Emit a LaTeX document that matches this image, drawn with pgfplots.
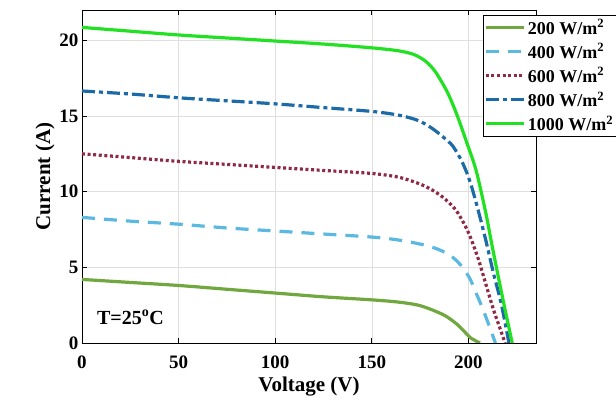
\documentclass[border=0pt]{standalone}
\usepackage{fontspec}
\setmainfont{Liberation Serif}
\usepackage{pgfplots}
\pgfplotsset{compat=1.18}
\definecolor{c200}{HTML}{70A83F}
\definecolor{c400}{HTML}{5BB8E0}
\definecolor{c600}{HTML}{8E2A45}
\definecolor{c800}{HTML}{1C6AA6}
\definecolor{c1000}{HTML}{22E022}
\begin{document}
\begin{tikzpicture}
\begin{axis}[
    scale only axis,
    width=454pt, height=333pt,
    xmin=0, xmax=235, ymin=0, ymax=22,
    xtick={0,50,...,200}, ytick={0,5,...,20},
    tick align=inside, ticks=both,
    tick style={black, thick},
    major tick length=5pt,
    grid=major, major grid style={gray!25},
    axis line style={black, thick},
    xlabel={\bfseries Voltage (V)}, ylabel={\bfseries Current (A)},
    label style={font=\fontsize{21}{23}\selectfont},
    xlabel style={yshift=-2pt},
    ylabel style={yshift=-2pt},
    tick label style={font=\fontsize{19}{21}\selectfont\bfseries},
    xticklabel style={yshift=-9pt},
    /pgf/number format/assume math mode=true,
    legend style={at={(0.883,0.985)}, anchor=north west, draw=black, thick,
        font=\fontsize{18}{20}\selectfont\bfseries, inner xsep=1pt, inner ysep=2pt,
        row sep=4pt, fill=white},
    legend cell align=left,
    legend image code/.code={\draw[#1] (0cm,0cm) -- (1.35cm,0cm);},
    every axis plot/.append style={line width=3.2pt},
]
\addplot[c200, smooth] coordinates {
(0,4.2) (25,4.0) (50,3.8) (75,3.55) (100,3.3) (125,3.05) (150,2.85) (164,2.7) (174,2.5) (181,2.2) (188,1.8) (194,1.25) (198,0.75) (201,0.35) (206,0)
};
\addlegendentry{200 W/m$^{\mathbf{2}}$}
\addplot[c400, dash pattern=on 13pt off 9pt, smooth] coordinates {
(0,8.3) (25,8.05) (50,7.85) (75,7.6) (100,7.4) (125,7.2) (150,7.0) (164,6.8) (178,6.45) (186,6.1) (192,5.65) (197,5.0) (201,4.2) (204,3.3) (207,2.4) (210,1.4) (214,0)
};
\addlegendentry{400 W/m$^{\mathbf{2}}$}
\addplot[c600, dash pattern=on 3pt off 2.6pt, smooth] coordinates {
(0,12.5) (25,12.25) (50,12.0) (75,11.8) (100,11.6) (125,11.4) (150,11.2) (164,10.95) (175,10.5) (182,10.05) (188,9.5) (194,8.7) (200,7.3) (205,5.6) (209,3.9) (213,2.2) (216,1.1) (219,0)
};
\addlegendentry{600 W/m$^{\mathbf{2}}$}
\addplot[c800, dash pattern=on 13pt off 4pt on 4pt off 4pt, smooth] coordinates {
(0,16.65) (25,16.45) (50,16.2) (75,16.0) (100,15.8) (125,15.55) (150,15.3) (164,15.05) (174,14.7) (181,14.2) (187,13.6) (192,13.0) (197,11.9) (201,10.6) (205,8.8) (209,6.8) (213,4.6) (217,2.6) (221,0)
};
\addlegendentry{800 W/m$^{\mathbf{2}}$}
\addplot[c1000, smooth] coordinates {
(0,20.85) (25,20.6) (50,20.35) (75,20.15) (100,19.95) (125,19.75) (150,19.5) (164,19.3) (172,19.05) (178,18.6) (183,17.9) (189,16.6) (194,15.1) (199,13.3) (204,11.4) (209,8.6) (212,6.6) (214.5,5.0) (218.5,2.5) (222.7,0)
};
\addlegendentry{1000 W/m$^{\mathbf{2}}$}
\node[anchor=west, font=\fontsize{20}{22}\selectfont\bfseries] at (axis cs:6,1.7) {T=25$^{\mathbf{o}}$C};
\end{axis}
\pgfresetboundingbox
\path (current axis.south west) ++(-82pt,-60pt) rectangle ++(616pt,403pt);
\end{tikzpicture}
\end{document}
